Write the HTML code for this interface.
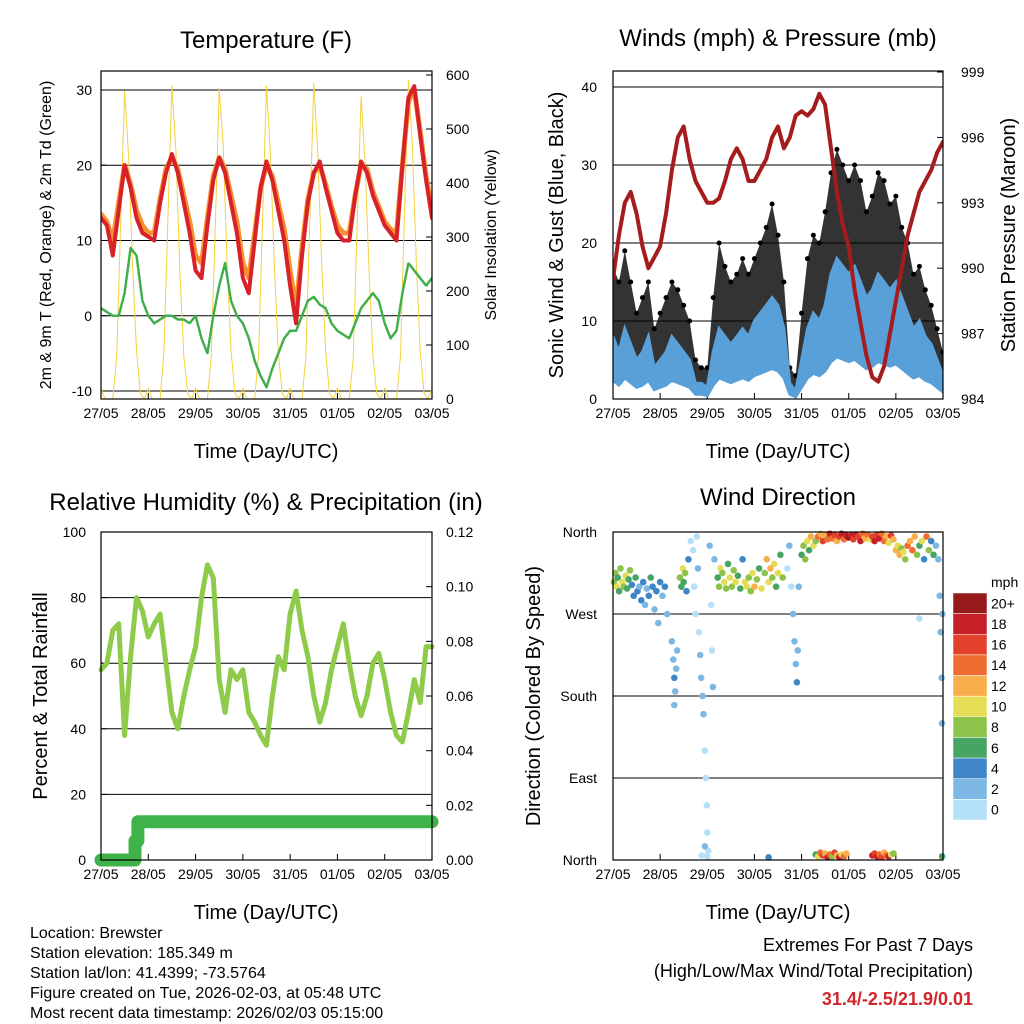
<!DOCTYPE html>
<html><head><meta charset="utf-8"><style>
html,body{margin:0;padding:0;background:#fff;}
svg{display:block;font-family:"Liberation Sans",Arial,sans-serif;}
</style></head><body>
<svg id="s" width="1024" height="1024" viewBox="0 0 1024 1024" xmlns="http://www.w3.org/2000/svg">
<g id="static">
<text x="266" y="48" font-size="24" text-anchor="middle">Temperature (F)</text>
<text x="778" y="46" font-size="24" text-anchor="middle">Winds (mph) &amp; Pressure (mb)</text>
<text x="266" y="510" font-size="24" text-anchor="middle">Relative Humidity (%) &amp; Precipitation (in)</text>
<text x="778" y="505" font-size="24" text-anchor="middle">Wind Direction</text>
<text x="266" y="458" font-size="20" text-anchor="middle">Time (Day/UTC)</text>
<text x="778" y="458" font-size="20" text-anchor="middle">Time (Day/UTC)</text>
<text x="266" y="919" font-size="20" text-anchor="middle">Time (Day/UTC)</text>
<text x="778" y="919" font-size="20" text-anchor="middle">Time (Day/UTC)</text>
<text transform="translate(51,235) rotate(-90)" font-size="16" text-anchor="middle">2m &amp; 9m T (Red, Orange) &amp; 2m Td (Green)</text>
<text transform="translate(496,235) rotate(-90)" font-size="16" text-anchor="middle">Solar Insolation (Yellow)</text>
<text transform="translate(563,235) rotate(-90)" font-size="20" text-anchor="middle">Sonic Wind &amp; Gust (Blue, Black)</text>
<text transform="translate(1015,235) rotate(-90)" font-size="20" text-anchor="middle">Station Pressure (Maroon)</text>
<text transform="translate(47,696) rotate(-90)" font-size="20" text-anchor="middle">Percent &amp; Total Rainfall</text>
<text transform="translate(540,696) rotate(-90)" font-size="20" text-anchor="middle">Direction (Colored By Speed)</text>
<g font-size="16">
<text x="30" y="938">Location: Brewster</text>
<text x="30" y="958">Station elevation: 185.349 m</text>
<text x="30" y="978">Station lat/lon: 41.4399; -73.5764</text>
<text x="30" y="998">Figure created on Tue, 2026-02-03, at 05:48 UTC</text>
<text x="30" y="1018">Most recent data timestamp: 2026/02/03 05:15:00</text>
</g>
<g font-size="18" text-anchor="end">
<text x="973" y="951">Extremes For Past 7 Days</text>
<text x="973" y="977">(High/Low/Max Wind/Total Precipitation)</text>
<text x="973" y="1005" fill="#d0262c" font-weight="bold">31.4/-2.5/21.9/0.01</text>
</g>
</g>
<g id="dyn"></g>
</svg>
<script>
// ---------- DATA ----------
const dayLabels = ["27/05","28/05","29/05","30/05","31/05","01/05","02/05","03/05"];
const tempTicks = [-10,0,10,20,30];
const solarTicks = [0,100,200,300,400,500,600];
const windTicks = [0,10,20,30,40];
const pressTicks = [984,987,990,993,996,999];
const rhTicks = [0,20,40,60,80,100];
const precipTicks = ["0.00","0.02","0.04","0.06","0.08","0.10","0.12"];
const dirTicks = ["North","East","South","West","North"];
const temp2m = [13,12,8,14,20,17,13,11,10.5,10,15,19,21.5,19,15,11,6,5,12,18,21,19,15,11,5,3,10,17,20.5,18,14,10,4,-1,8,15,19,20.5,17,14,11,10,10,16,20.5,19,16,14,12,11,10,20,29,30.5,24,18,13];
const temp9m = [13.5,12.5,10,15,20,17.5,14,12,11,11,15.5,19.5,21,19.5,16,12.5,8,7,13,18.5,21,19.5,16,12.5,7,5,11,17,20,18.5,15,11.5,6,1,9,15.5,19,20,17.5,14.5,12,11,11,16,20,19.5,16.5,14.5,12.5,11.5,11,20,28.5,30,24.5,18.5,14];
const dewPoint = [1,0.5,0,0,3,9,8,2,0,-1,-0.5,0,0,-0.5,-0.5,-1,0,-3,-5,0,4,7,2,0,-1,-3,-6,-8,-9.5,-7,-5,-3,-2,-2,0,2,2.5,1.5,1,-1,-2,-2.5,-3,-1,1,2,3,2,-1,-3,-2,3,7,6,5,4,5];
const solar = [20,0,0,0,80,330,570,450,250,90,10,0, 20,0,0,0,90,340,580,460,240,80,10,0, 20,0,0,0,80,320,575,470,250,90,10,0, 20,0,0,0,85,335,580,455,245,85,10,0, 20,0,0,0,80,330,585,460,250,90,10,0, 20,0,0,0,75,320,560,440,240,80,10,0, 20,0,0,0,80,340,590,470,260,90,10,0, 20];
const pressure = [989.5,991.5,993,993.5,992.5,991,990,990.5,991,992.5,994.5,996,996.5,995,994,993.5,993,993,993.2,994,995,995.5,995,994,994,994.5,995,996,996.5,995.5,996,997,997.2,997,997.3,998,997.5,995.5,993.5,992,991,989,987.5,986,985,984.8,985.5,987,988.5,990,991.5,992.5,993.5,994,994.5,995.3,995.8];
const windSpeed = [8,6,9,7,5,6,8,4,5,6,8,7,6,5,2,2,1.5,6,9,8,7,8,9,8,10,11,12,13,12,9,2,1,5,9,11,10,12,16,18,17,16,17,15,13,14,16,15,14,15,13,11,9,10,8,7,5,3];
const windGust = [17,15,19,15,11,13,15,9,11,13,15,14,12,10,5,4,4,13,20,17,15,16,18,16,18,20,22,25,21,15,4,3,11,18,21,20,24,29,32,30,28,30,28,24,26,29,28,25,26,22,20,16,17,14,12,9,6];
const relHum = [58,60,70,72,38,62,80,76,68,72,75,60,45,40,50,58,65,80,90,86,55,45,58,55,58,45,42,38,35,50,62,58,75,82,70,62,50,42,48,58,65,72,60,50,44,50,60,63,55,45,38,36,45,55,48,65,65];
const precipTime = [0,0.7,0.72,0.78,7];
const precipVal = [0,0,0.007,0.014,0.014];
const speedBins = [0,2,4,6,8,10,12,14,16,18,20];
const speedLabels = ["0","2","4","6","8","10","12","14","16","18","20+"];
const windDirObs = [[0.02,305,8],[0.05,315,9],[0.08,300,10],[0.1,310,7],[0.13,295,6],[0.16,320,9],[0.2,305,11],[0.23,300,8],[0.27,312,10],[0.3,298,7],[0.33,308,6],[0.36,318,9],[0.4,302,5],[0.44,290,4],[0.48,310,7],
[0.52,295,4],[0.56,300,3],[0.6,285,4],[0.64,305,5],[0.68,280,3],[0.72,298,2],[0.76,290,4],[0.8,310,6],[0.84,300,5],[0.88,275,3],[0.92,295,4],[0.96,260,2],[1.0,305,4],[1.05,290,3],[1.1,300,5],[1.15,270,3],
[1.25,240,3],[1.28,220,3],[1.3,200,4],[1.32,185,3],[1.34,210,2],[1.36,230,3],[1.3,170,3],
[1.42,310,8],[1.45,300,6],[1.48,320,10],[1.5,305,7],[1.53,315,9],[1.56,295,5],[1.6,330,4],
[1.65,350,1],[1.7,340,0],[1.72,300,1],[1.75,270,1],[1.78,355,1],[1.8,320,2],[1.82,250,1],[1.85,225,2],[1.87,200,2],[1.9,180,3],[1.92,160,2],[1.95,120,1],[1.97,90,1],[1.99,60,1],[2.0,30,1],[2.02,10,1],[2.05,345,2],[2.08,280,1],[2.1,230,1],[2.12,190,2],[2.15,330,2],[1.88,5,1],[1.95,15,2],
[2.22,310,6],[2.25,300,8],[2.28,320,10],[2.32,315,9],[2.36,305,10],[2.4,298,8],[2.44,325,7],[2.48,310,11],[2.52,300,9],[2.56,318,8],[2.6,305,10],[2.65,312,6],[2.7,298,7],[2.75,330,5],
[2.8,305,10],[2.84,300,11],[2.88,310,9],[2.92,295,8],[2.96,315,10],[3.0,300,12],[3.05,308,9],[3.1,320,6],[3.15,298,10],
[3.22,315,8],[3.26,330,12],[3.3,305,10],[3.34,320,13],[3.38,310,9],[3.42,325,11],[3.46,300,7],[3.5,315,10],[3.55,335,6],[3.6,310,9],
[3.7,320,1],[3.74,345,2],[3.78,300,1],[3.82,270,2],[3.85,240,3],[3.88,215,3],[3.9,195,4],[3.92,230,3],[3.94,300,2],
[4.0,335,7],[4.04,345,9],[4.08,330,8],[4.12,350,10],[4.16,340,6],[4.2,355,12],[4.25,345,10],[4.3,350,8],
[4.35,355,14],[4.4,358,12],[4.45,350,16],[4.5,356,13],[4.55,352,15],[4.6,358,18],[4.65,353,14],[4.7,357,17],[4.75,350,12],[4.8,355,16],[4.85,358,19],[4.9,352,15],[4.95,356,18],
[5.0,354,20],[5.05,356,18],[5.1,352,17],[5.15,357,19],[5.2,355,16],[5.25,350,18],[5.3,358,14],[5.35,353,12],[5.4,357,15],[5.45,352,10],
[5.5,355,17],[5.55,350,19],[5.6,357,16],[5.65,353,18],[5.7,358,14],[5.75,350,15],[5.8,355,13],[5.85,348,11],[5.9,356,16],[5.95,352,12],
[6.0,340,12],[6.04,345,10],[6.08,335,13],[6.12,342,9],[6.16,338,11],[6.2,330,8],[6.25,345,14],
[6.3,350,12],[6.35,340,15],[6.4,355,13],[6.45,335,9],[6.5,345,6],[6.55,350,10],[6.6,330,5],[6.65,355,14],[6.7,340,8],[6.75,350,4],[6.8,335,6],[6.85,345,3],[6.9,330,3],[6.93,290,2],[6.95,250,3],[6.97,200,3],[6.98,150,2],[6.99,270,2],[6.5,265,1],
[4.3,6,6],[4.35,4,10],[4.4,8,14],[4.45,5,16],[4.5,7,12],[4.55,3,18],[4.6,6,14],[4.65,4,8],[4.7,8,16],[4.75,5,12],[4.8,3,18],[4.85,6,10],[4.9,4,15],[4.95,7,13],[5.5,5,18],[5.55,7,16],[5.6,4,19],[5.65,6,14],[5.7,3,17],[5.75,8,12],[5.8,5,15],[5.85,4,18],[5.9,6,10],[5.95,7,8],[3.3,3,4],[6.98,4,6],[2.0,4,1]];

// ---------- RENDER ----------
const NS="http://www.w3.org/2000/svg";
const root=document.getElementById('dyn');
function mk(tag,attrs,parent){const e=document.createElementNS(NS,tag);for(const k in attrs)e.setAttribute(k,attrs[k]);(parent||root).appendChild(e);return e;}
function lin(d0,d1,r0,r1){return v=>r0+(v-d0)/(d1-d0)*(r1-r0);}
const colors=["#b4e1f8","#7db8e4","#3f86c6","#47a563","#8dc24b","#e4dd55","#f8ae4b","#ef6d30","#e2412b","#c61f28","#961a1c"];
function spdColor(s){let i=0;for(let k=0;k<speedBins.length;k++){if(s>=speedBins[k])i=k;}return colors[i];}

function frame(name,x0,x1,y0,y1){
  const g=mk('g',{});
  
  
  const xs=lin(0,7,x0,x1);
  dayLabels.forEach((lab,i)=>{
    const x=xs(i);
    const tk=mk('line',{x1:x,x2:x,y1:y1,y2:y1-6,stroke:'#000','stroke-width':1},g);
    
    
    const t=mk('text',{x:x,y:y1+19,'font-size':14,'text-anchor':'middle'},g);
    
    
    t.textContent=lab;
  });
  return {g,xs};
}
function box(g,x0,x1,y0,y1){
  const r=mk('rect',{x:x0,y:y0,width:x1-x0,height:y1-y0,fill:'none',stroke:'#000','stroke-width':1.2},g);
  
  
}
function hGrid(g,ys,vals,x0,x1){
  vals.forEach(v=>{const y=ys(v);const l=mk('line',{x1:x0,x2:x1,y1:y,y2:y,stroke:'#000','stroke-width':1},g);
    
    });
}
function yLabels(g,ys,vals,labels,x,anchor,tickX,dir){
  vals.forEach((v,i)=>{const y=ys(v);
    const t=mk('text',{x:x,y:y+5,'font-size':14,'text-anchor':anchor},g);
    
    
    t.textContent=labels?labels[i]:v;
    const tk=mk('line',{x1:tickX,x2:tickX+dir*6,y1:y,y2:y,stroke:'#000'},g);
    
    
  });
}
function polyline(g,xs,ys,ts,vs,attrs,name){
  const pts=vs.map((v,i)=>xs(ts[i]).toFixed(1)+','+ys(v).toFixed(1)).join(' ');
  const p=mk('polyline',Object.assign({points:pts,fill:'none','stroke-linejoin':'round','stroke-linecap':'round'},attrs),g);
  
  
  return p;
}
const t3=relHum.map((_,i)=>i*0.125);
const t2=solar.map((_,i)=>i/12);

// Panel 1
{
  const X0=101,X1=432,Y0=71,Y1=399;
  const {g,xs}=frame('temperature',X0,X1,Y0,Y1);
  const ys=lin(-10,30,391,90), ysol=lin(0,600,399,75);
  hGrid(g,ys,tempTicks,X0,X1);
  yLabels(g,ys,tempTicks,null,92,'end',X0,1);
  yLabels(g,ysol,solarTicks,null,446,'start',X1,-1);
  const cp=mk('clipPath',{id:'c1'},g);mk('rect',{x:X0,y:Y0,width:X1-X0,height:Y1-Y0},cp);
  const pg=mk('g',{'clip-path':'url(#c1)'},g);
  polyline(pg,xs,ysol,t2,solar,{stroke:'#f4d23c','stroke-width':1},'solar-insolation-line');
  polyline(pg,xs,ys,t3,dewPoint,{stroke:'#3fae49','stroke-width':2.5,'stroke-dasharray':'2 1.5'},'dewpoint-2m-line');
  polyline(pg,xs,ys,t3,temp9m,{stroke:'#f7902f','stroke-width':5},'temp-9m-line');
  polyline(pg,xs,ys,t3,temp2m,{stroke:'#d8222a','stroke-width':4},'temp-2m-line');
  box(g,X0,X1,Y0,Y1);
}
// Panel 2
{
  const X0=613,X1=943,Y0=71,Y1=399;
  const {g,xs}=frame('winds',X0,X1,Y0,Y1);
  const ys=lin(0,40,399,87), yp=lin(984,999,399,72);
  hGrid(g,ys,windTicks,X0,X1);
  yLabels(g,ys,windTicks,null,597,'end',X0,1);
  yLabels(g,yp,pressTicks,null,961,'start',X1,-1);
  const cp=mk('clipPath',{id:'c2'},g);mk('rect',{x:X0,y:Y0,width:X1-X0,height:Y1-Y0},cp);
  const pg=mk('g',{'clip-path':'url(#c2)'},g);
  let d='';
  windGust.forEach((v,i)=>{d+=(i?' L':'M')+xs(t3[i]).toFixed(1)+','+ys(v).toFixed(1);});
  for(let i=windSpeed.length-1;i>=0;i--){d+=' L'+xs(t3[i]).toFixed(1)+','+ys(windSpeed[i]*0.5).toFixed(1);}
  const ga=mk('path',{d:d+'Z',fill:'#000','fill-opacity':0.8},pg);
  
  
  windGust.forEach((v,i)=>{const c=mk('circle',{cx:xs(t3[i]),cy:ys(v),r:2.5,fill:'#000'},pg);
    
    });
  let d2='';
  windSpeed.forEach((v,i)=>{d2+=(i?' L':'M')+xs(t3[i]).toFixed(1)+','+ys(v).toFixed(1);});
  for(let i=windSpeed.length-1;i>=0;i--){d2+=' L'+xs(t3[i]).toFixed(1)+','+ys(windSpeed[i]*0.3).toFixed(1);}
  const wa=mk('path',{d:d2+'Z',fill:'#5aa0d8',stroke:'#5aa0d8','stroke-width':3},pg);
  
  
  polyline(pg,xs,yp,t3,pressure,{stroke:'#a51c1c','stroke-width':4},'pressure-line');
  box(g,X0,X1,Y0,Y1);
}
// Panel 3
{
  const X0=101,X1=432,Y0=532,Y1=860;
  const {g,xs}=frame('humidity',X0,X1,Y0,Y1);
  const ys=lin(0,100,860,532), ypr=lin(0,0.12,860,532);
  hGrid(g,ys,rhTicks,X0,X1);
  yLabels(g,ys,rhTicks,null,86,'end',X0,1);
  yLabels(g,ypr,precipTicks.map(Number),precipTicks,446,'start',X1,-1);
  polyline(g,xs,ys,t3,relHum,{stroke:'#8fcb4a','stroke-width':5},'relative-humidity-line');
  const pts=[];
  for(let i=0;i<precipTime.length;i++){if(i>0)pts.push([precipTime[i],precipVal[i-1]]);pts.push([precipTime[i],precipVal[i]]);}
  polyline(g,xs,ypr,pts.map(p=>p[0]),pts.map(p=>p[1]),{stroke:'#3fb34a','stroke-width':13},'precipitation-line');
  box(g,X0,X1,Y0,Y1);
}
// Panel 4
{
  const X0=613,X1=943,Y0=532,Y1=860;
  const {g,xs}=frame('wind-direction',X0,X1,Y0,Y1);
  const ys=lin(0,360,860,532);
  const vals=[0,90,180,270,360];
  hGrid(g,ys,vals,X0,X1);
  yLabels(g,ys,vals,dirTicks,597,'end',X0,1);
  windDirObs.forEach(o=>{
    const c=mk('circle',{cx:xs(o[0]).toFixed(1),cy:ys(o[1]).toFixed(1),r:3.3,fill:spdColor(o[2])},g);
    
    
  });
  box(g,X0,X1,Y0,Y1);
  const lg=mk('g',{});
  
  
  const lt=mk('text',{x:991,y:587,'font-size':14},lg);lt.textContent='mph';
  
  
  const bh=227/11;
  speedLabels.forEach((lab,i)=>{
    const k=10-i;const y=593+i*bh;
    const r=mk('rect',{x:953,y:y,width:34,height:bh,fill:colors[k],stroke:'#fff','stroke-width':0.5},lg);
    
    
    const t=mk('text',{x:991,y:y+bh/2+5,'font-size':14},lg);
    
    
    t.textContent=speedLabels[k];
  });
}
</script>
</body></html>
